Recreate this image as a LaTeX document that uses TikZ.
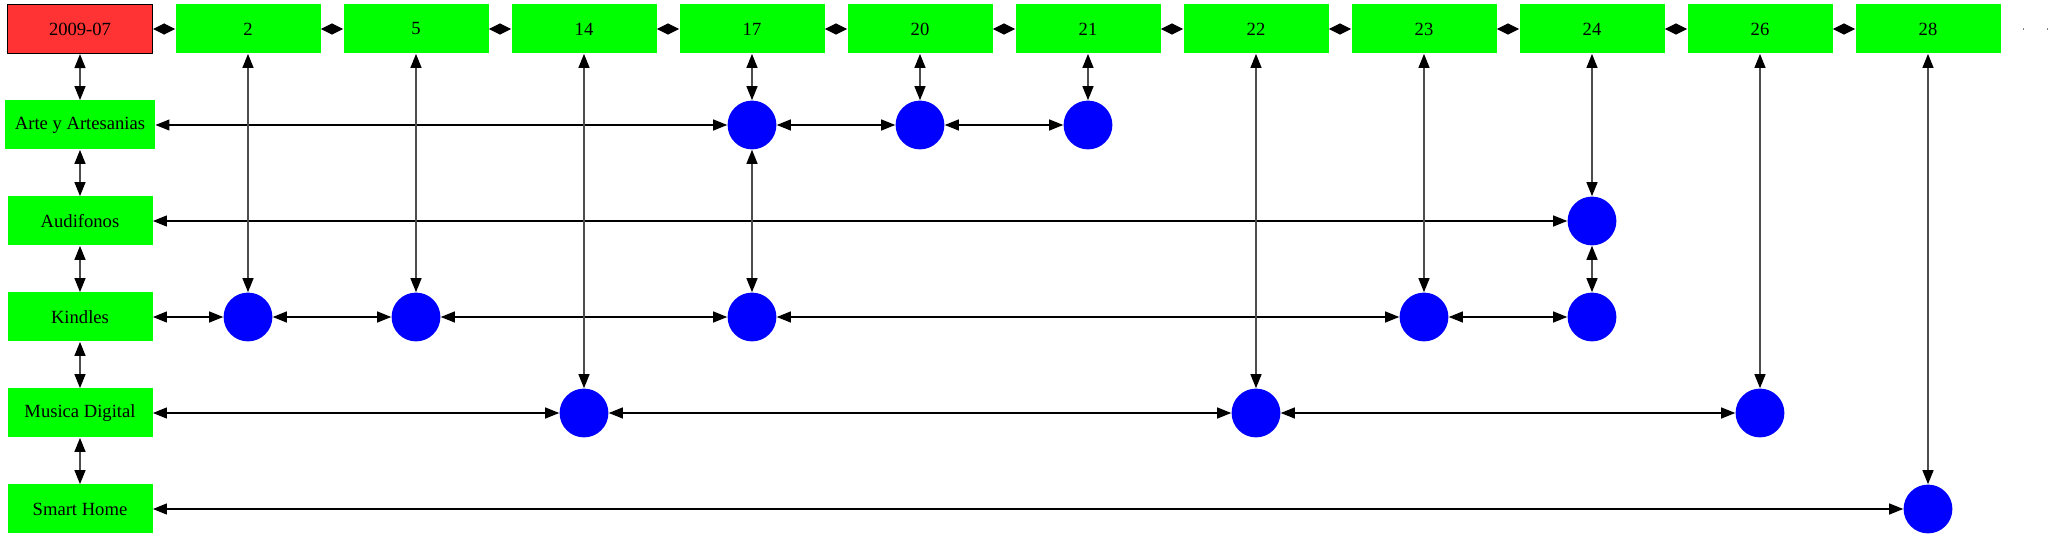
\documentclass[tikz,border=0pt]{standalone}
\usepackage{fontspec}
\setmainfont{Liberation Serif}
\usepackage{tikz}
\usetikzlibrary{arrows.meta}
\definecolor{monthred}{RGB}{255,51,51}
\definecolor{catgreen}{RGB}{0,255,0}
\definecolor{dotblue}{RGB}{0,0,255}
\definecolor{linkgray}{RGB}{77,77,77}
\tikzset{
  monthbox/.style={draw=black,line width=0.6pt,fill=monthred,minimum width=72.5pt,minimum height=24.5pt,inner sep=0pt},
  weekbox/.style={fill=catgreen,minimum width=72.5pt,minimum height=24.5pt,inner sep=0pt},
  catbox/.style={fill=catgreen,minimum width=72.5pt,minimum height=24.5pt,inner xsep=5pt,inner ysep=0pt},
  hit/.style={circle,fill=dotblue,minimum size=24.4pt,inner sep=0pt},
  hlink/.style={<->,line width=0.55pt,black},
  vlink/.style={<->,line width=0.65pt,linkgray},
  chainlink/.style={{Triangle[length=5.6pt,width=5.5pt]}-{Triangle[length=5.6pt,width=5.5pt]},line width=0.55pt,black}
}

\begin{document}
\begin{tikzpicture}[line cap=round,line join=round,>={Triangle[length=7pt,width=5.5pt,color=black]},x=0.5pt,y=-0.5pt,
  font=\fontsize{9.3}{11}\selectfont]
\useasboundingbox (0,0) rectangle (2053,539);
% top row
\node[monthbox] (m) at (80,29) {2009-07};
\node[weekbox] (w2) at (248,29) {2};
\node[weekbox] (w5) at (416,29) {5};
\node[weekbox] (w14) at (584,29) {14};
\node[weekbox] (w17) at (752,29) {17};
\node[weekbox] (w20) at (920,29) {20};
\node[weekbox] (w21) at (1088,29) {21};
\node[weekbox] (w22) at (1256,29) {22};
\node[weekbox] (w23) at (1424,29) {23};
\node[weekbox] (w24) at (1592,29) {24};
\node[weekbox] (w26) at (1760,29) {26};
\node[weekbox] (w28) at (1928,29) {28};
\coordinate (more) at (2053,29);
% left column
\node[catbox] (arte) at (80,125) {Arte y Artesanias};
\node[catbox] (audi) at (80,221) {Audifonos};
\node[catbox] (kind) at (80,317) {Kindles};
\node[catbox] (musi) at (80,413) {Musica Digital};
\node[catbox] (smart) at (80,509) {Smart Home};
% hits
\node[hit] (a17) at (752,125) {};
\node[hit] (a20) at (920,125) {};
\node[hit] (a21) at (1088,125) {};
\node[hit] (au24) at (1592,221) {};
\node[hit] (k2) at (248,317) {};
\node[hit] (k5) at (416,317) {};
\node[hit] (k17) at (752,317) {};
\node[hit] (k23) at (1424,317) {};
\node[hit] (k24) at (1592,317) {};
\node[hit] (mu14) at (584,413) {};
\node[hit] (mu22) at (1256,413) {};
\node[hit] (mu26) at (1760,413) {};
\node[hit] (s28) at (1928,509) {};
% top chain
\draw[chainlink] (m) -- (w2);
\draw[chainlink] (w2) -- (w5);
\draw[chainlink] (w5) -- (w14);
\draw[chainlink] (w14) -- (w17);
\draw[chainlink] (w17) -- (w20);
\draw[chainlink] (w20) -- (w21);
\draw[chainlink] (w21) -- (w22);
\draw[chainlink] (w22) -- (w23);
\draw[chainlink] (w23) -- (w24);
\draw[chainlink] (w24) -- (w26);
\draw[chainlink] (w26) -- (w28);
\draw[gray,line cap=butt,line width=0.8pt,dash pattern=on 0.6pt off 11.4pt] ([xshift=11pt]w28.east) -- (more);
% left chain
\draw[vlink] (m) -- (arte);
\draw[vlink] (arte) -- (audi);
\draw[vlink] (audi) -- (kind);
\draw[vlink] (kind) -- (musi);
\draw[vlink] (musi) -- (smart);
% rows
\draw[hlink] (arte) -- (a17);
\draw[hlink] (a17) -- (a20);
\draw[hlink] (a20) -- (a21);
\draw[hlink] (audi) -- (au24);
\draw[hlink] (kind) -- (k2);
\draw[hlink] (k2) -- (k5);
\draw[hlink] (k5) -- (k17);
\draw[hlink] (k17) -- (k23);
\draw[hlink] (k23) -- (k24);
\draw[hlink] (musi) -- (mu14);
\draw[hlink] (mu14) -- (mu22);
\draw[hlink] (mu22) -- (mu26);
\draw[hlink] (smart) -- (s28);
% columns
\draw[vlink] (w2) -- (k2);
\draw[vlink] (w5) -- (k5);
\draw[vlink] (w14) -- (mu14);
\draw[vlink] (w17) -- (a17);
\draw[vlink] (a17) -- (k17);
\draw[vlink] (w20) -- (a20);
\draw[vlink] (w21) -- (a21);
\draw[vlink] (w22) -- (mu22);
\draw[vlink] (w23) -- (k23);
\draw[vlink] (w24) -- (au24);
\draw[vlink] (au24) -- (k24);
\draw[vlink] (w26) -- (mu26);
\draw[vlink] (w28) -- (s28);
\end{tikzpicture}
\end{document}
